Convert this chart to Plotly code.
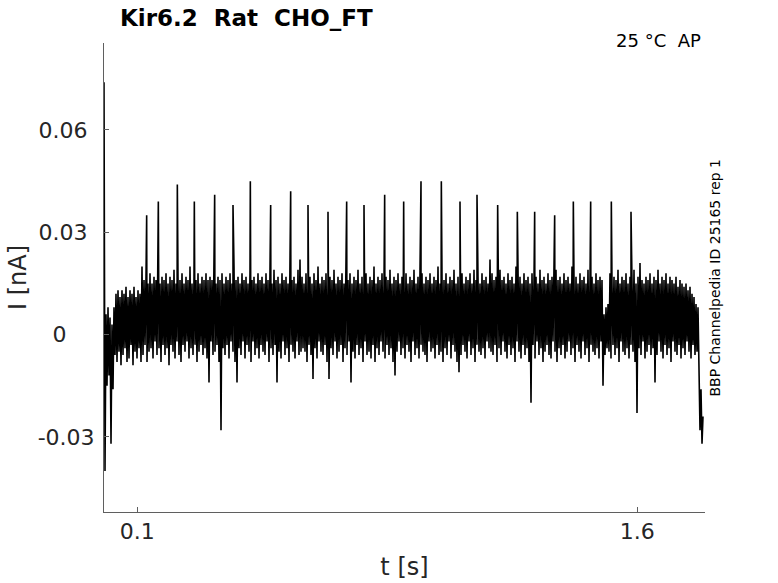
import numpy as np
import plotly.graph_objects as go

# recorded current, pA, one sample every 3 ms from t = 0
sample_dt = 0.003
trace_pA = [
    74, -40, 6, -15, 8, -12, 5, -32, 3, -16, 8, -6, 12, -8, 13, -5, 11, -9, 13, -6,
    12, -4, 14, -8, 11, -7, 13, -3, 12, -9, 14, -5, 11, -7, 13, -4, 12, -8, 20, -6,
    16, -3, 17, -8, 15, -5, 18, -4, 15, -7, 17, -2, 16, -6, 19, -4, 15, -8, 17, -3,
    16, -6, 18, -4, 15, -9, 17, -3, 16, -5, 19, -7, 15, -2, 17, -6, 16, -8, 18, -3,
    15, -5, 17, -2, 16, -7, 20, -4, 15, -6, 17, -3, 16, -8, 18, -5, 15, -3, 17, -6,
    16, -4, 18, -7, 16, -14, 17, -2, 16, -6, 19, -5, 15, -3, 17, -8, 16, -28, 18, -4,
    15, -6, 17, -3, 16, -7, 18, -2, 15, -5, 20, -8, 16, -14, 17, -4, 15, -6, 18, -2,
    16, -7, 17, -3, 15, -5, 19, -8, 16, -2, 17, -6, 15, -4, 18, -7, 16, -3, 17, -5,
    15, -6, 18, -2, 16, -8, 17, -4, 15, -6, 19, -3, 16, -14, 17, -5, 15, -7, 18, -2,
    16, -6, 17, -4, 15, -8, 18, -3, 16, -5, 17, -7, 15, -2, 19, -6, 22, -5, 17, -4,
    15, -5, 18, -8, 16, -3, 17, -6, 15, -13, 18, -4, 16, -7, 20, -2, 15, -5, 17, -6,
    16, -3, 18, -8, 15, -13, 17, -4, 16, -6, 19, -2, 15, -7, 17, -5, 16, -3, 18, -8,
    15, -4, 17, -6, 16, -2, 18, -14, 15, -5, 17, -7, 16, -3, 19, -6, 15, -4, 17, -8,
    16, -2, 18, -6, 15, -5, 17, -7, 16, -3, 20, -8, 15, -4, 17, -6, 16, -2, 18, -5,
    15, -7, 17, -3, 16, -6, 19, -4, 15, -8, 17, -12, 16, -5, 18, -2, 15, -6, 17, -4,
    16, -7, 18, -3, 15, -5, 17, -8, 16, -2, 19, -6, 15, -4, 17, -7, 16, -3, 18, -5,
    15, -6, 17, -8, 16, -2, 18, -5, 15, -4, 17, -7, 16, -3, 20, -6, 15, -5, 17, -8,
    16, -4, 18, -6, 15, -2, 17, -7, 16, -3, 19, -5, 15, -8, 17, -11, 16, -6, 18,
    -3, 15, -5, 17, -7, 16, -2, 18, -6, 15, -4, 19, -8, 16, -3, 17, -5, 15, -6, 18,
    -4, 16, -7, 17, -2, 15, -4, 22, -5, 18, -6, 16, -3, 17, -8, 15, -4, 19, -6, 16, -2,
    17, -5, 15, -7, 18, -3, 16, -6, 17, -4, 15, -8, 20, -2, 16, -5, 17, -7, 15, -3,
    18, -6, 16, -4, 17, -8, 15, -20, 18, -3, 16, -7, 17, -2, 15, -6, 19, -4, 16,
    -8, 17, -5, 15, -3, 18, -6, 16, -7, 17, -2, 15, -5, 19, -8, 16, -4, 17, -6, 15,
    -3, 18, -7, 16, -5, 17, -2, 15, -6, 20, -4, 16, -8, 17, -3, 15, -5, 18, -7, 16,
    -2, 17, -6, 15, -4, 19, -8, 16, -3, 17, -5, 15, -6, 18, -4, 16, -7, 17, -2, 16, -15,
    6, -6, 8, -4, 9, -5, 18, -7, 15, -3, 17, -6, 16, -4, 19, -8, 15, -2, 17,
    -5, 16, -6, 18, -4, 15, -7, 17, -3, 16, -5, 19, -8, 15, -23, 17, -4, 21, -6, 16,
    -2, 15, -7, 17, -5, 16, -3, 18, -6, 15, -4, 17, -14, 16, -6, 19, -2, 15, -5, 17,
    -7, 16, -3, 18, -6, 15, -4, 17, -8, 16, -2, 15, -5, 17, -6, 14, -3, 16, -7, 15,
    -4, 14, -6, 15, -2, 13, -5, 14, -7, 12, -3, 11, -6, 9, -5, 8, -18, -28, -16, -32,
    -24,
]

# stimulus artefacts (s, pA)
spike_t = [
    0.128, 0.163, 0.220, 0.271, 0.332, 0.387, 0.439, 0.500, 0.560, 0.612,
    0.672, 0.728, 0.780, 0.842, 0.899, 0.951, 1.012, 1.068, 1.119, 1.181,
    1.240, 1.292, 1.352, 1.408, 1.460, 1.522, 1.581,
]
spike_pA = [
    35, 39, 44, 39, 41, 38, 45, 38, 42, 38,
    36, 39, 38, 41, 39, 45, 45, 39, 41, 38,
    36, 36, 35, 39, 39, 39, 36,
]

x_ticks = [0.1, 1.6]
y_ticks = [-0.03, 0, 0.03, 0.06]
nb = "\u00a0"
y_tick_text = ["-0.03", "0" + nb * 4, "0.03" + nb, "0.06" + nb]

t = np.arange(len(trace_pA)) * sample_dt
x = np.concatenate([t, spike_t])
y = np.concatenate([trace_pA, spike_pA]) / 1000.0
order = np.argsort(x, kind="stable")

fig = go.Figure()
fig.add_trace(
    go.Scatter(
        x=x[order],
        y=y[order],
        mode="lines",
        line=dict(color="black", width=1.6),
        showlegend=False,
        hoverinfo="skip",
    )
)

axis_col = "#5f5f5f"
font_col = "#262626"
fig.update_layout(
    width=778,
    height=583,
    margin=dict(l=104, r=73, t=43, b=71),
    plot_bgcolor="white",
    paper_bgcolor="white",
    font=dict(family="DejaVu Sans", color=font_col, size=20),
    xaxis=dict(
        range=[0, 1.803],
        tickvals=x_ticks,
        ticktext=[str(v) for v in x_ticks],
        ticks="inside",
        ticklen=5,
        tickcolor=axis_col,
        showline=True,
        linecolor=axis_col,
        linewidth=1,
        showgrid=False,
        zeroline=False,
        automargin=False,
        ticklabelstandoff=0,
        title=dict(text="t [s]", font=dict(size=24), standoff=14),
        tickfont=dict(size=22),
    ),
    yaxis=dict(
        range=[-0.052, 0.0855],
        tickvals=y_ticks,
        ticktext=y_tick_text,
        ticks="inside",
        ticklen=5,
        tickcolor=axis_col,
        showline=True,
        linecolor=axis_col,
        linewidth=1,
        showgrid=False,
        zeroline=False,
        automargin=False,
        ticklabelstandoff=4,
        title=dict(text="I [nA]", font=dict(size=24), standoff=4),
        tickfont=dict(size=22),
    ),
)

fig.add_annotation(
    text="<b>Kir6.2\u00a0\u00a0Rat\u00a0\u00a0CHO_FT</b>",
    xref="paper", yref="paper", x=0.023, y=1.053,
    xanchor="left", yanchor="middle", showarrow=False,
    font=dict(size=23, color="black"),
)
fig.add_annotation(
    text="25 °C\u00a0\u00a0AP",
    xref="paper", yref="paper", x=0.997, y=1.006,
    xanchor="right", yanchor="middle", showarrow=False,
    font=dict(size=18, color="black"),
)
fig.add_annotation(
    text="BBP Channelpedia ID 25165 rep 1",
    xref="paper", yref="paper", x=1.015, y=0.5,
    xanchor="center", yanchor="middle", textangle=-90, showarrow=False,
    font=dict(size=14, color="black"),
)

# the page is photographed from its top-left corner
fig.write_html(
    "out.html",
    config={"displayModeBar": False},
    post_script="document.body.style.margin = '0';",
)
